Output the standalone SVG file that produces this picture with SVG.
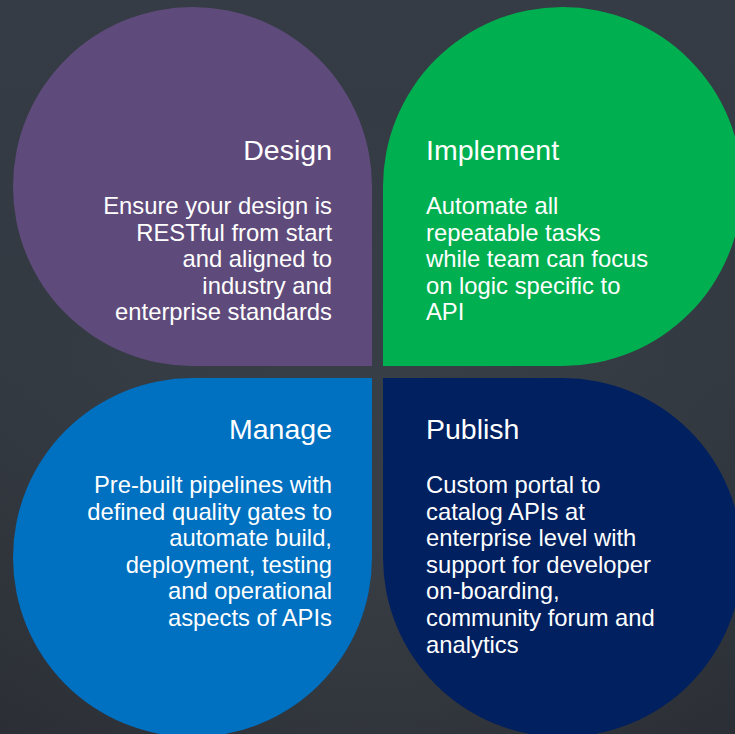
<svg xmlns="http://www.w3.org/2000/svg" width="735" height="734" viewBox="0 0 735 734">
  <defs>
    <linearGradient id="bg" x1="0" y1="0" x2="0" y2="1">
      <stop offset="0" stop-color="#363c45"/>
      <stop offset="0.5" stop-color="#333941"/>
      <stop offset="1" stop-color="#2a2e34"/>
    </linearGradient>
    <radialGradient id="glow" cx="0.5" cy="0.75" r="0.6">
      <stop offset="0" stop-color="#4a5058" stop-opacity="0.35"/>
      <stop offset="1" stop-color="#4a5058" stop-opacity="0"/>
    </radialGradient>
  </defs>
  <style>
    .title { font-family: "Liberation Sans", Arial, sans-serif; font-size: 28.5px; fill: #ffffff; }
    .body { font-family: "Liberation Sans", Arial, sans-serif; font-size: 23.8px; fill: #ffffff; }
    .right { text-anchor: end; }
    .left { text-anchor: start; }
  </style>
  <rect x="0" y="0" width="735" height="734" fill="url(#bg)"/>
  <rect x="0" y="0" width="735" height="734" fill="url(#glow)"/>

  <g id="design">
    <path d="M372,187 L372,366 L192.5,366 A179.5,179.5 0 1 1 372,187 Z" fill="#5f4b7b"/>
    <text class="title right" x="332" y="160">Design</text>
    <text class="body right" x="332" y="214">Ensure your design is</text>
    <text class="body right" x="332" y="240.6">RESTful from start</text>
    <text class="body right" x="332" y="267.2">and aligned to</text>
    <text class="body right" x="332" y="293.8">industry and</text>
    <text class="body right" x="332" y="320.4">enterprise standards</text>
  </g>

  <g id="implement">
    <path d="M562.5,366 L383,366 L383,187 A179.5,179.5 0 1 1 562.5,366 Z" fill="#00b050"/>
    <text class="title left" x="426" y="160">Implement</text>
    <text class="body left" x="426" y="214">Automate all</text>
    <text class="body left" x="426" y="240.6">repeatable tasks</text>
    <text class="body left" x="426" y="267.2">while team can focus</text>
    <text class="body left" x="426" y="293.8">on logic specific to</text>
    <text class="body left" x="426" y="320.4">API</text>
  </g>

  <g id="manage">
    <path d="M192.5,378 L372,378 L372,557.5 A179.5,179.5 0 1 1 192.5,378 Z" fill="#0070c0"/>
    <text class="title right" x="332" y="439">Manage</text>
    <text class="body right" x="332" y="493">Pre-built pipelines with</text>
    <text class="body right" x="332" y="519.6">defined quality gates to</text>
    <text class="body right" x="332" y="546.2">automate build,</text>
    <text class="body right" x="332" y="572.8">deployment, testing</text>
    <text class="body right" x="332" y="599.4">and operational</text>
    <text class="body right" x="332" y="626">aspects of APIs</text>
  </g>

  <g id="publish">
    <path d="M383,557.5 L383,378 L562.5,378 A179.5,179.5 0 1 1 383,557.5 Z" fill="#002060"/>
    <text class="title left" x="426" y="439">Publish</text>
    <text class="body left" x="426" y="493">Custom portal to</text>
    <text class="body left" x="426" y="519.6">catalog APIs at</text>
    <text class="body left" x="426" y="546.2">enterprise level with</text>
    <text class="body left" x="426" y="572.8">support for developer</text>
    <text class="body left" x="426" y="599.4">on-boarding,</text>
    <text class="body left" x="426" y="626">community forum and</text>
    <text class="body left" x="426" y="652.6">analytics</text>
  </g>

  <g id="connectors"></g>
</svg>
